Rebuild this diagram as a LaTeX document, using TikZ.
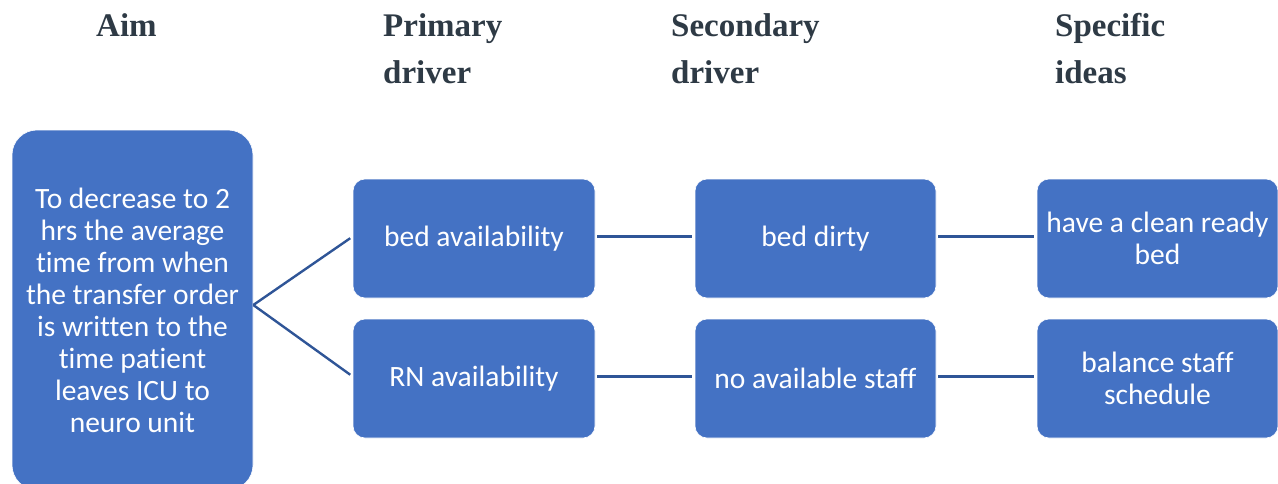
\documentclass[tikz,border=0pt]{standalone}
\usepackage{fontspec}
\setmainfont{Carlito}[Ligatures=NoCommon]
\newfontfamily\headfont{Liberation Serif}
\definecolor{boxblue}{HTML}{4472C4}
\definecolor{lineblue}{HTML}{2F5597}
\definecolor{headgray}{HTML}{2E3A45}
\begin{document}
\begin{tikzpicture}[x=1pt,y=-1pt,
  boxstyle/.style={fill=boxblue, draw=white, line width=0.6pt, rounded corners=12pt,
    text=white, align=center, inner sep=2pt,
    font=\fontsize{29.5}{32}\selectfont},
  headstyle/.style={anchor=base west, align=left, text=headgray, inner sep=0pt,
    font=\headfont\bfseries\fontsize{33}{47}\selectfont},
  conn/.style={draw=lineblue, line width=2.4pt, shorten <=2pt, shorten >=3pt}]
\useasboundingbox (0,0) rectangle (1278,483);
% headers
\node[headstyle] (hAim) at (96,36) {Aim};
\node[headstyle] (hPrim) at (383,83) {Primary\\driver};
\node[headstyle] (hSec) at (671,83) {Secondary\\driver};
\node[headstyle] (hSpec) at (1055,83) {Specific\\ideas};
% boxes
\node[boxstyle, rounded corners=25pt, minimum width=241pt, minimum height=360pt] (aim) at (132.5,310)
  {To decrease to 2\\hrs the average\\time from when\\the transfer order\\is written to the\\time patient\\leaves ICU to\\neuro unit};
\node[boxstyle, minimum width=242pt, minimum height=119pt] (p1) at (474,238.5) {bed availability};
\node[boxstyle, minimum width=242pt, minimum height=119pt] (p2) at (474,378.5) {RN availability};
\node[boxstyle, minimum width=241pt, minimum height=119pt] (s1) at (815.5,238.5) {bed dirty};
\node[boxstyle, minimum width=241pt, minimum height=119pt] (s2) at (815.5,378.5) {no available staff};
\node[boxstyle, minimum width=241pt, minimum height=119pt] (i1) at (1157.5,238.5) {have a clean ready\\bed};
\node[boxstyle, minimum width=241pt, minimum height=119pt] (i2) at (1157.5,378.5) {balance staff\\schedule};
% connectors
\draw[conn, shorten <=0pt] ([yshift=5pt]aim.east) -- ([yshift=2pt]p1.west);
\draw[conn, shorten <=0pt] ([yshift=5pt]aim.east) -- ([yshift=2pt]p2.west);
\draw[conn] ([yshift=2pt]p1.east) -- ([yshift=2pt]s1.west);
\draw[conn] ([yshift=2pt]p2.east) -- ([yshift=2pt]s2.west);
\draw[conn] ([yshift=2pt]s1.east) -- ([yshift=2pt]i1.west);
\draw[conn] ([yshift=2pt]s2.east) -- ([yshift=2pt]i2.west);
\end{tikzpicture}
\end{document}
